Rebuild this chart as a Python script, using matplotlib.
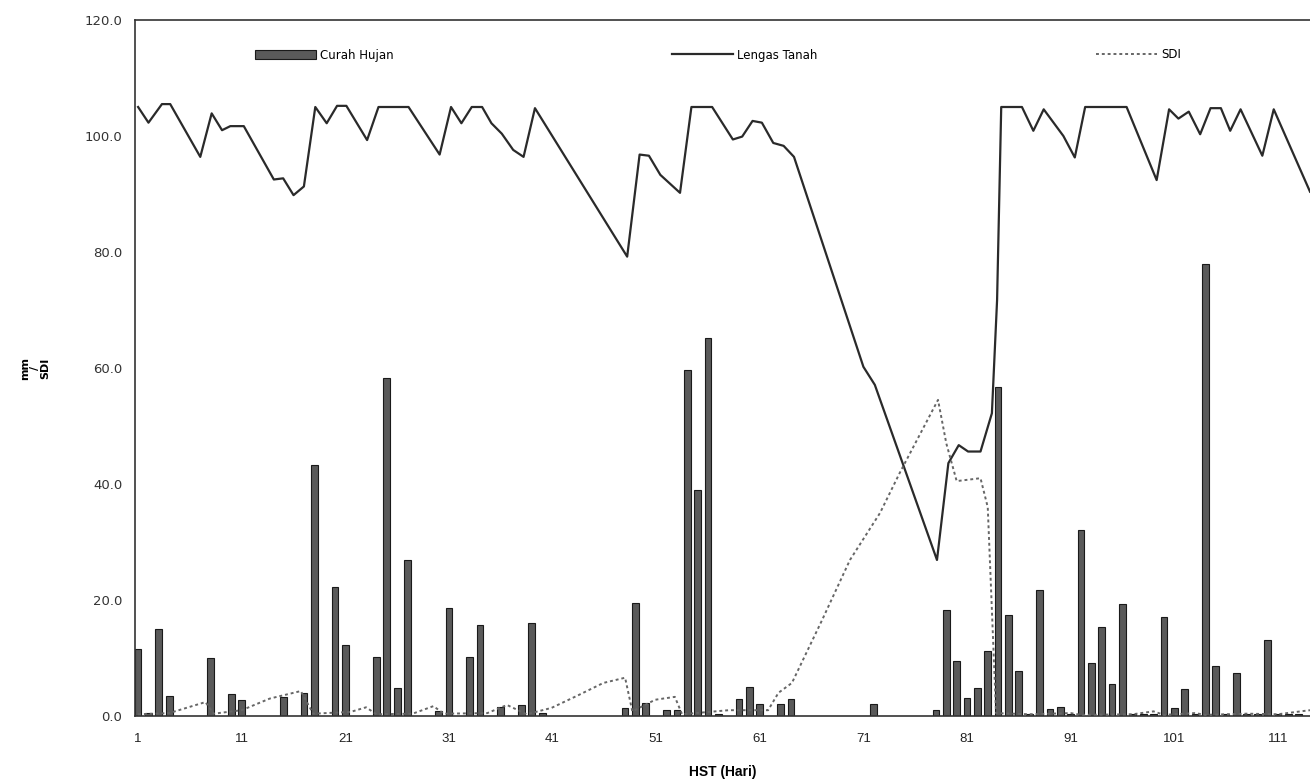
import matplotlib
matplotlib.use("Agg")
import matplotlib.pyplot as plt

plt.rcParams['font.family'] = ['DejaVu Sans']

# Curah Hujan (mm) per hari
hujan_hari = [1, 2, 3, 4, 8, 10, 11, 15, 17, 18, 20, 21, 24, 25, 26, 27, 30, 31, 33, 34,
              36, 38, 39, 40, 48, 49, 50, 52, 53, 54, 55, 56, 57, 59, 60, 61, 63, 64, 72,
              78, 79, 80, 81, 82, 83, 84, 85, 86, 87, 88, 89, 90, 91, 92, 93, 94, 95, 96,
              97, 98, 99, 100, 101, 102, 103, 104, 105, 106, 107, 108, 109, 110, 111, 112, 113]
hujan_mm = [11.5, 0.6, 15.0, 3.5, 10.0, 3.8, 2.8, 3.3, 4.0, 43.3, 22.2, 12.2, 10.2, 58.3, 4.8, 26.9, 0.8, 18.6, 10.2, 15.7,
            1.5, 1.9, 16.0, 0.5, 1.3, 19.5, 2.2, 1.1, 1.1, 59.7, 39.0, 65.2, 0.4, 3.0, 5.0, 2.0, 2.0, 3.0, 2.0,
            1.0, 18.3, 9.5, 3.1, 4.8, 11.2, 56.7, 17.4, 7.8, 0.3, 21.7, 1.2, 1.6, 0.3, 32.0, 9.1, 15.3, 5.5, 19.3,
            0.3, 0.3, 0.3, 17.1, 1.4, 4.7, 0.3, 78.0, 8.6, 0.3, 7.4, 0.3, 0.3, 13.1, 0.3, 0.3, 0.3]

# Lengas Tanah (titik belok garis)
lengas_hari = [1, 2, 3.3, 4.1, 7, 8.1, 9.1, 9.9, 11.2, 14.1, 15, 16, 17, 18.1, 19.2, 20.2, 21.1,
               23.1, 24.2, 27.1, 30.1, 31.2, 32.2, 33.2, 34.2, 35.1, 36.1, 37.2, 38.2, 39.3,
               48.2, 49.4, 50.3, 51.4, 53.3, 54.4, 56.4, 58.4, 59.3, 60.3, 61.2, 62.3, 63.3, 64.3,
               71, 72.1, 78.1, 79.2, 80.2, 81.1, 82.3, 83.4, 83.9, 84.3, 86.3, 87.4, 88.4, 90.3,
               91.4, 92.4, 96.4, 99.3, 100.5, 101.4, 102.4, 103.5, 104.5, 105.5, 106.4, 107.4,
               109.5, 110.6, 114.1]
lengas_val = [105.0, 102.3, 105.5, 105.5, 96.4, 103.9, 101.0, 101.7, 101.7, 92.5, 92.7, 89.8, 91.3, 105.0, 102.2, 105.2, 105.2,
              99.3, 105.0, 105.0, 96.8, 105.0, 102.2, 105.0, 105.0, 102.2, 100.4, 97.6, 96.4, 104.8,
              79.2, 96.8, 96.6, 93.3, 90.2, 105.0, 105.0, 99.4, 99.9, 102.6, 102.3, 98.8, 98.3, 96.4,
              60.2, 57.1, 26.9, 43.6, 46.7, 45.6, 45.6, 52.2, 71.7, 105.0, 105.0, 100.9, 104.6, 100.0,
              96.3, 105.0, 105.0, 92.4, 104.6, 103.0, 104.2, 100.3, 104.8, 104.8, 100.9, 104.6,
              96.6, 104.6, 90.4]

# SDI
sdi_hari = [1, 4, 7.5, 8.3, 11, 13.7, 16.7, 17.9, 21.5, 23, 24, 27.5, 29.5, 30.5, 34.7, 36.6, 38.5,
            40.9, 43.5, 45.9, 48, 48.7, 50.9, 52.8, 53.5, 58, 61.8, 62.8, 64.1, 67, 69.7, 72.6, 74.5,
            78.2, 79, 80, 82.3, 83, 83.8, 87, 91, 92, 97, 99, 100, 103, 104, 108, 111, 114.1]
sdi_val = [0.3, 0.5, 2.4, 0.4, 1.0, 3.0, 4.3, 0.4, 0.7, 1.5, 0.3, 0.4, 1.7, 0.4, 0.5, 1.9, 0.3,
           1.4, 3.6, 5.7, 6.6, 0.8, 2.8, 3.3, 0.3, 1.0, 1.0, 4.0, 5.7, 16.5, 26.9, 35.0, 41.9,
           54.5, 47.0, 40.5, 41.0, 36.0, 0.5, 0.3, 0.5, 0.2, 0.3, 0.8, 0.2, 0.5, 0.2, 0.4, 0.3, 1.0]

x_ticks = [1, 11, 21, 31, 41, 51, 61, 71, 81, 91, 101, 111]
y_ticks = [0, 20, 40, 60, 80, 100, 120]

fig = plt.figure(figsize=(13.1, 7.83), dpi=100)
ax = fig.add_axes([135 / 1310, 1 - 716 / 783, 1 - 135 / 1310, 696 / 783])

bars = ax.bar(hujan_hari, hujan_mm, width=0.65, color='#5a5a5a', edgecolor='#1a1a1a',
              linewidth=0.8, label='Curah Hujan', zorder=2)
l1, = ax.plot(lengas_hari, lengas_val, color='#2a2a2a', lw=1.6, label='Lengas Tanah', zorder=3)
l2, = ax.plot(sdi_hari, sdi_val, color='#666666', lw=1.4, linestyle=(0, (1.5, 1.5)),
              label='SDI', zorder=3)

ax.set_xlim(0.7, 114.1)
ax.set_ylim(0, 120)
ax.set_xticks(x_ticks)
ax.set_xticklabels([str(t) for t in x_ticks], fontsize=9.5, color='#222222',
                   family='Liberation Sans')
ax.set_yticks(y_ticks)
ax.set_yticklabels(['%.1f' % t for t in y_ticks], fontsize=9.5, color='#333333')
ax.tick_params(axis='both', length=0)
ax.tick_params(axis='x', pad=12)
ax.tick_params(axis='y', pad=9)

for s in ['left', 'top', 'bottom']:
    ax.spines[s].set_color('#333333')
    ax.spines[s].set_linewidth(1.2)
ax.spines['right'].set_visible(False)

ax.set_xlabel('HST (Hari)', fontsize=10, fontweight='bold', family='Liberation Sans')
ax.xaxis.set_label_coords(0.5, -0.07)
ax.set_ylabel('mm\n/\nSDI', fontsize=8, fontweight='bold', linespacing=1.0)
ax.yaxis.set_label_coords(-0.072, 0.5)

ax.legend([bars, l1, l2], ['Curah Hujan', 'Lengas Tanah', 'SDI'],
          loc='center left', bbox_to_anchor=(249 / 1310, 1 - 55 / 783),
          bbox_transform=fig.transFigure, ncol=3, frameon=False, fontsize=8.5,
          handlelength=5.2, handletextpad=0.3, columnspacing=23.6, borderpad=0)

fig.savefig('out.png', dpi=100)
